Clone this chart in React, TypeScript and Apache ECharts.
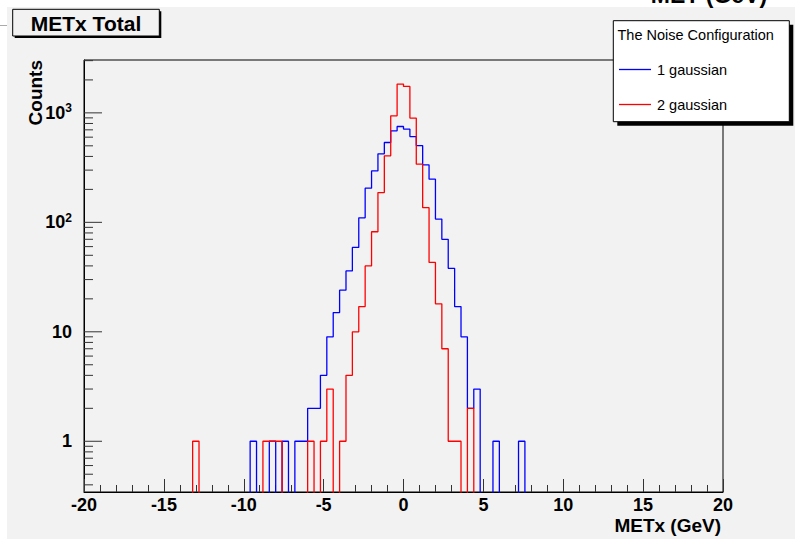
import React, { useEffect, useRef } from "react";
import * as echarts from "echarts";

// Histogram binning (lower edge of first listed bin, bin width in GeV)
const binStart = -14.0;
const binWidth = 0.4;

// Counts per bin, starting at binStart (55 bins: -14.0 .. 8.0)
const blueCounts = [
  0, 0, 0, 0, 0, 0, 0, 0, 0, 0, 0,
  1, 0, 0, 1, 0, 1, 0, 1, 1, 2, 2, 4, 9, 15, 24, 36, 59, 110, 205, 295, 423, 536, 686, 751,
  711, 608, 503, 335, 248, 107, 70, 38, 17, 9, 2, 3, 0, 0, 1, 0, 0, 0, 1, 0,
];
const redCounts = [
  0, 0, 1, 0, 0, 0, 0, 0, 0, 0, 0, 0, 0,
  1, 1, 1, 0, 0, 0, 0, 1, 0, 1, 3, 0, 1, 4, 10, 17, 40, 82, 187, 405, 940, 1834,
  1745, 896, 340, 136, 43, 18, 7, 1, 1, 0, 2, 0, 0, 0, 0, 0, 0, 0, 0, 0,
];
const seriesNames = ["1 gaussian", "2 gaussian"];
const seriesColors = ["#0000ff", "#ff0000"];

const xMin = -20;
const xMax = 20;
const xInterval = 5;
const yMin = 0.344;
const yMax = 3041;
const yMajorTicks = [1, 10, 100, 1000];
const yMinorTicks = [
  0.4, 0.5, 0.6, 0.7, 0.8, 0.9,
  2, 3, 4, 5, 6, 7, 8, 9,
  20, 30, 40, 50, 60, 70, 80, 90,
  200, 300, 400, 500, 600, 700, 800, 900,
  2000, 3000,
];

const FONT = "'Liberation Sans', Arial, Helvetica, sans-serif";

function toSteps(counts: number[]) {
  const floor = 0.01; // empty bins drawn down to the frame (clipped)
  const pts: number[][] = counts.map((c, i) => [binStart + i * binWidth, c > 0 ? c : floor]);
  pts.push([binStart + counts.length * binWidth, floor]);
  return pts;
}

function tickSeries(values: number[], len: number) {
  return {
    type: "custom",
    coordinateSystem: "cartesian2d",
    silent: true,
    clip: false,
    z: 3,
    data: values.map((v) => [xMin, v]),
    renderItem: (_p: any, api: any) => {
      const p = api.coord([api.value(0), api.value(1)]);
      return {
        type: "line",
        shape: { x1: p[0], y1: p[1], x2: p[0] + len, y2: p[1] },
        style: { stroke: "#333", lineWidth: 1 },
      };
    },
  };
}

export default function App() {
  const ref = useRef<HTMLDivElement>(null);
  useEffect(() => {
    const chart = echarts.init(ref.current!, null, { renderer: "svg" });
    const option: any = {
      animation: false,
      backgroundColor: "transparent",
      grid: {
        left: 84,
        right: 72,
        top: 60,
        bottom: 50,
        show: true,
        borderColor: "#000",
        borderWidth: 1,
        backgroundColor: "transparent",
      },
      xAxis: {
        type: "value",
        min: xMin,
        max: xMax,
        interval: xInterval,
        axisLine: { onZero: false, lineStyle: { color: "#000", width: 1 } },
        axisTick: { inside: true, length: 13, lineStyle: { color: "#333" } },
        minorTick: { show: true, splitNumber: 5, length: 7, lineStyle: { color: "#333" } },
        splitLine: { show: false },
        axisLabel: {
          color: "#000",
          fontFamily: FONT,
          fontWeight: "bold",
          fontSize: 18,
          margin: 4,
        },
      },
      yAxis: {
        type: "log",
        logBase: 10,
        min: yMin,
        max: yMax,
        axisLine: { show: true, onZero: false, lineStyle: { color: "#000", width: 1 } },
        axisTick: { show: false },
        splitLine: { show: false },
        axisLabel: {
          color: "#000",
          fontFamily: FONT,
          fontWeight: "bold",
          fontSize: 18,
          margin: 12,
          formatter: (v: number) => {
            const l = Math.log10(v);
            const e = Math.round(l);
            if (Math.abs(l - e) > 1e-6) return "";
            if (e === 0) return "1";
            if (e === 1) return "10";
            return "10{sup|" + e + "}";
          },
          rich: {
            sup: {
              fontSize: 12,
              fontWeight: "bold",
              fontFamily: FONT,
              color: "#000",
              verticalAlign: "bottom",
              padding: [0, 0, 9, 0],
            },
          },
        },
      },
      legend: {
        show: true,
        data: seriesNames,
        orient: "vertical",
        left: 619,
        top: 62,
        padding: 0,
        icon: "rect",
        itemWidth: 32,
        itemHeight: 1.3,
        itemGap: 20,
        selectedMode: false,
        textStyle: { fontFamily: FONT, fontSize: 14.5, lineHeight: 14, color: "#000", padding: [0, 0, 0, 1] },
        z: 20,
      },
      series: [
        {
          name: seriesNames[0],
          type: "line",
          step: "end",
          symbol: "none",
          clip: true,
          data: toSteps(blueCounts),
          lineStyle: { color: seriesColors[0], width: 1.3 },
          itemStyle: { color: seriesColors[0] },
          z: 4,
        },
        {
          name: seriesNames[1],
          type: "line",
          step: "end",
          symbol: "none",
          clip: true,
          data: toSteps(redCounts),
          lineStyle: { color: seriesColors[1], width: 1.3 },
          itemStyle: { color: seriesColors[1] },
          z: 5,
        },
        tickSeries(yMajorTicks, 18),
        tickSeries(yMinorTicks, 9),
      ],
      graphic: [
        // partial title of the pad above (cut off)
        {
          type: "text",
          x: 709,
          y: -5,
          z: 10,
          style: {
            text: "MET (GeV)",
            fontFamily: FONT,
            fontWeight: "bold",
            fontSize: 23,
            fill: "#000",
            align: "center",
            verticalAlign: "middle",
          },
        },
        // title box
        { type: "rect", z: 10, shape: { x: 14.7, y: 11.3, width: 146.6, height: 26.7 }, style: { fill: "#000" } },
        {
          type: "rect",
          z: 11,
          shape: { x: 12.7, y: 9.3, width: 146.6, height: 26.7 },
          style: { fill: "#f2f2f2", stroke: "#000", lineWidth: 1 },
        },
        {
          type: "text",
          z: 12,
          x: 86,
          y: 23,
          style: {
            text: "METx Total",
            fontFamily: FONT,
            fontWeight: "bold",
            fontSize: 21,
            fill: "#000",
            align: "center",
            verticalAlign: "middle",
          },
        },
        // y axis title
        {
          type: "text",
          z: 12,
          x: 35,
          y: 60,
          rotation: Math.PI / 2,
          style: {
            text: "Counts",
            fontFamily: FONT,
            fontWeight: "bold",
            fontSize: 19,
            fill: "#000",
            align: "right",
            verticalAlign: "middle",
          },
        },
        // x axis title
        {
          type: "text",
          z: 12,
          x: 721,
          y: 525,
          style: {
            text: "METx (GeV)",
            fontFamily: FONT,
            fontWeight: "bold",
            fontSize: 19,
            fill: "#000",
            align: "right",
            verticalAlign: "middle",
          },
        },
        // legend box
        { type: "rect", z: 15, shape: { x: 617.3, y: 24.7, width: 176, height: 101 }, style: { fill: "#000" } },
        {
          type: "rect",
          z: 16,
          shape: { x: 613.3, y: 20.7, width: 176, height: 101 },
          style: { fill: "#fff", stroke: "#000", lineWidth: 1 },
        },
        {
          type: "text",
          z: 17,
          x: 617.5,
          y: 35,
          style: {
            text: "The Noise Configuration",
            fontFamily: FONT,
            fontSize: 14.5,
            fill: "#000",
            align: "left",
            verticalAlign: "middle",
          },
        },
      ],
    };
    chart.setOption(option);
    return () => chart.dispose();
  }, []);

  return (
    <div
      style={{
        position: "fixed",
        left: 0,
        top: 0,
        width: 795,
        height: 542,
        background: "#fff",
        overflow: "hidden",
      }}
    >
      <div style={{ position: "absolute", left: 7, top: 7, width: 788, height: 532, background: "#f2f2f2" }} />
      <div style={{ position: "absolute", left: 0, top: 25, width: 7, height: 1, background: "#aaa" }} />
      <div ref={ref} style={{ position: "absolute", left: 0, top: 0, width: 795, height: 542 }} />
    </div>
  );
}
